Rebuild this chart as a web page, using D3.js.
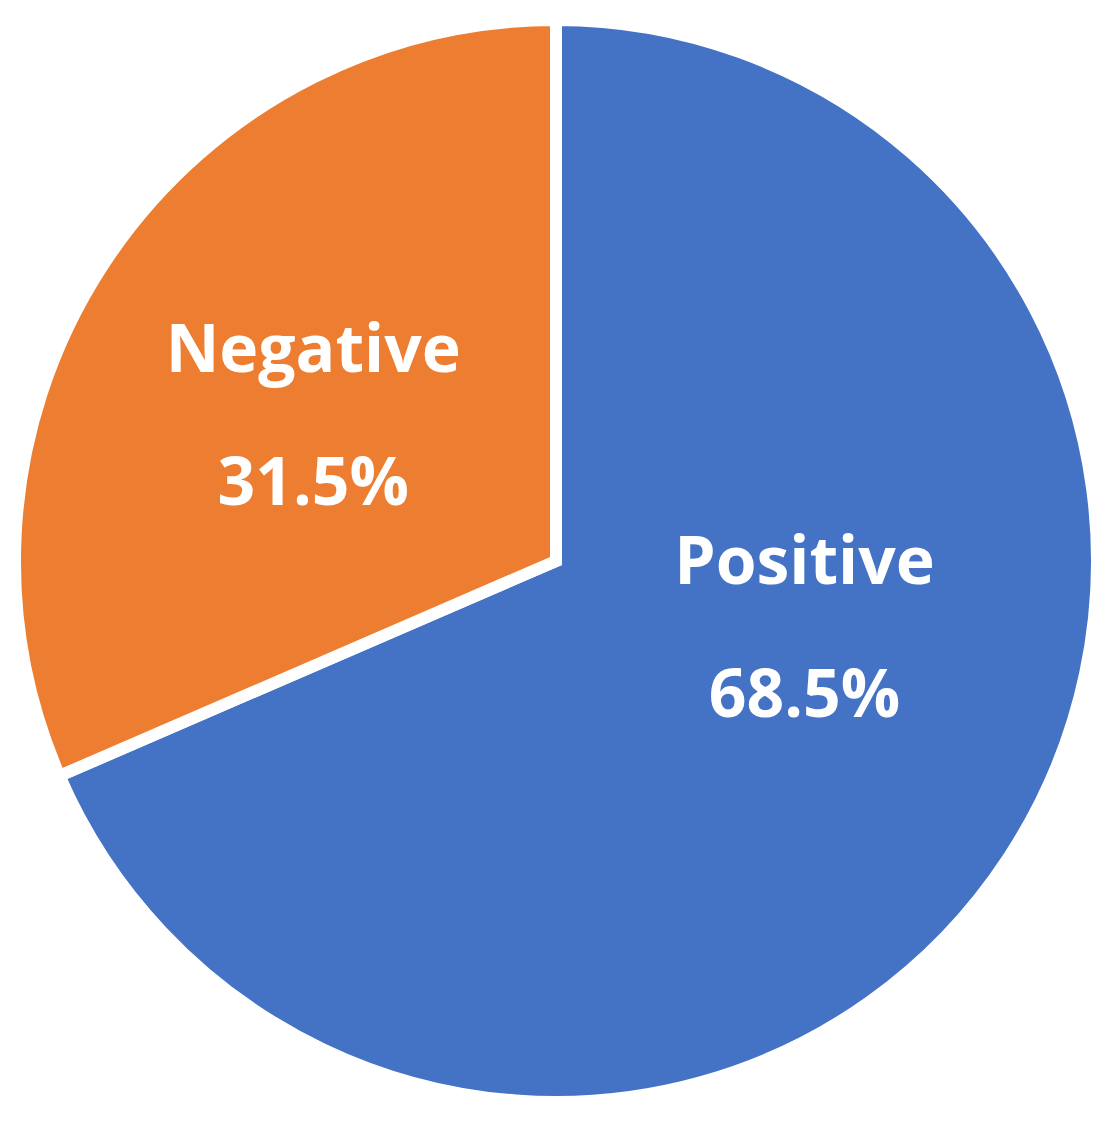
<!DOCTYPE html>
<html>
<head>
<meta charset="utf-8">
<script src="https://cdn.jsdelivr.net/npm/d3@7"></script>
<style>
  html, body { margin: 0; padding: 0; background: #ffffff; }
  svg { display: block; }
</style>
</head>
<body>
<svg id="chart" width="1120" height="1123"></svg>
<script>
// Data
const categories = ["Positive", "Negative"];
const values = [68.5, 31.5];
const valueLabels = ["68.5%", "31.5%"];
const colors = ["#4472C4", "#ED7D31"];

// Layout
const width = 1120, height = 1123;
const cx = 556, cy = 561;
const outerR = 541;
const strokeW = 12;
// label anchor positions in polar form (angle rad, radius px), relative to centre
const labelPolar = [[1.915, 264], [-1.103, 272]];

const svg = d3.select("#chart");
const g = svg.append("g").attr("transform", `translate(${cx},${cy})`);

const pie = d3.pie().sort(null).value(d => d)(values);
const arc = d3.arc().innerRadius(0).outerRadius(outerR);

g.selectAll("path.slice")
  .data(pie)
  .join("path")
  .attr("class", "slice")
  .attr("d", arc)
  .attr("fill", (d, i) => colors[i])
  .attr("stroke", "#ffffff")
  .attr("stroke-width", strokeW)
  .attr("stroke-linejoin", "miter");

const labels = g.selectAll("g.label")
  .data(pie)
  .join("g")
  .attr("class", "label")
  .attr("transform", (d, i) => {
    const p = d3.pointRadial(labelPolar[i][0], labelPolar[i][1]);
    return `translate(${p[0]},${p[1]})`;
  });

labels.append("text")
  .attr("text-anchor", "middle")
  .attr("y", -66)
  .attr("fill", "#ffffff")
  .attr("font-family", "'Open Sans', 'Noto Sans', sans-serif")
  .attr("font-weight", "bold")
  .attr("font-size", 66)
  .text((d, i) => categories[i]);

labels.append("text")
  .attr("text-anchor", "middle")
  .attr("y", 67)
  .attr("fill", "#ffffff")
  .attr("font-family", "'Open Sans', 'Noto Sans', sans-serif")
  .attr("font-weight", "bold")
  .attr("font-size", 66)
  .text((d, i) => valueLabels[i]);
</script>
</body>
</html>
